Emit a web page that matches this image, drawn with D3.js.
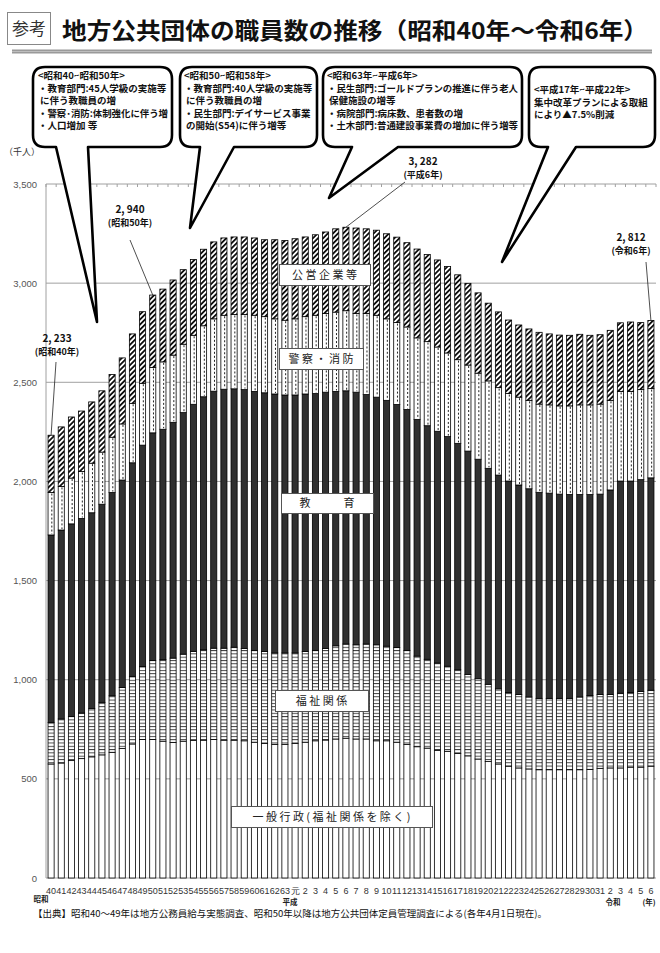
<!DOCTYPE html>
<html><head><meta charset="utf-8">
<script src="https://cdn.jsdelivr.net/npm/d3@7"></script>
<style>
html,body{margin:0;padding:0;background:#fff;}
svg{display:block;font-family:"Noto Sans CJK JP","Noto Sans",sans-serif;}
</style></head>
<body>
<svg id="c" width="660" height="953"></svg>
<script>
// ---------- data (千人) ----------
const categories = ["40","41","42","43","44","45","46","47","48","49","50","51","52","53","54","55","56","57","58","59","60","61","62","63",
  "元","2","3","4","5","6","7","8","9","10","11","12","13","14","15","16","17","18","19","20","21","22","23","24","25","26","27","28","29","30","31",
  "2","3","4","5","6"];
const general = [575,580,592,602,611,621,634,653,676,698,698,690,684,690,693,695,698,695,695,692,685,678,674,674,
  678,685,692,696,701,705,701,701,692,692,685,674,662,655,644,639,628,616,600,587,575,564,555,550,546,546,546,546,546,548,553,
  555,555,559,559,564];
const welfare = [210,222,223,230,243,265,285,308,341,369,399,411,425,439,450,456,461,464,469,466,463,464,461,461,
  457,457,456,462,470,475,475,479,484,477,477,474,457,448,440,429,422,411,405,390,379,372,370,363,360,360,360,360,367,372,372,
  370,377,377,382,383];
const education = [945,953,971,981,988,999,1025,1046,1077,1116,1148,1162,1189,1218,1246,1276,1296,1306,1303,1305,1306,1305,1306,1301,
  1301,1299,1295,1292,1283,1277,1274,1258,1249,1240,1226,1215,1194,1178,1169,1158,1142,1126,1107,1089,1078,1066,1057,1050,1039,1035,1030,1028,1021,1014,1011,
  1032,1070,1066,1068,1071];
const policeFire = [214,220,231,237,250,263,279,283,300,312,330,340,339,345,348,358,365,373,375,379,384,384,379,377,
  384,390,395,397,400,404,397,409,413,411,413,416,411,424,425,422,422,434,434,441,441,441,443,446,445,445,445,447,452,452,454,
  452,452,452,454,450];
const enterprise = [289,300,308,305,309,309,316,333,350,361,365,367,379,376,382,386,388,390,391,391,390,388,399,402,
  404,402,406,411,420,421,431,427,429,429,431,425,448,439,439,436,428,412,405,392,382,371,364,360,362,358,357,356,356,351,350,
  353,346,350,338,344];
const yTicks = [0,500,1000,1500,2000,2500,3000,3500];
const seriesKeys = ["general","welfare","education","policeFire","enterprise"];
const seriesLabels = ["一 般 行 政 ( 福 祉 関 係 を 除 く )","福 祉 関 係","教　　　育","警 察 ・ 消 防","公 営 企 業 等"];
const eraLabels = ["昭和","平成","令和","(年)"];
const highlights = [
  {idx:0, value:"2, 233", era:"(昭和40年)"},
  {idx:10, value:"2, 940", era:"(昭和50年)"},
  {idx:29, value:"3, 282", era:"(平成6年)"},
  {idx:59, value:"2, 812", era:"(令和6年)"}
];
const callouts = [
  ["<昭和40~昭和50年>","・教育部門:45人学級の実施等","に伴う教職員の増","・警察･消防:体制強化に伴う増","・人口増加 等"],
  ["<昭和50~昭和58年>","・教育部門:40人学級の実施等","に伴う教職員の増","・民生部門:デイサービス事業","の開始(S54)に伴う増等"],
  ["<昭和63年~平成6年>","・民生部門:ゴールドプランの推進に伴う老人","保健施設の増等","・病院部門:病床数、患者数の増","・土木部門:普通建設事業費の増加に伴う増等"],
  ["<平成17年~平成22年>","集中改革プランによる取組","により▲7.5%削減"]
];
const title = "地方公共団体の職員数の推移（昭和40年～令和6年）";
const source = "【出典】昭和40～49年は地方公務員給与実態調査、昭和50年以降は地方公共団体定員管理調査による(各年4月1日現在)。";

// ---------- chart ----------
const svg = d3.select("#c");
const defs = svg.append("defs");
const wp = defs.append("pattern").attr("id","pWel").attr("patternUnits","userSpaceOnUse").attr("width",10).attr("height",3.3);
wp.append("rect").attr("width",10).attr("height",3.3).attr("fill","#fff");
wp.append("line").attr("x1",0).attr("x2",10).attr("y1",0.5).attr("y2",0.5).attr("stroke","#333").attr("stroke-width",0.9);
const hp = defs.append("pattern").attr("id","pHatch").attr("patternUnits","userSpaceOnUse").attr("width",3.6).attr("height",3.6).attr("patternTransform","rotate(45)");
hp.append("rect").attr("width",3.6).attr("height",3.6).attr("fill","#fff");
hp.append("line").attr("x1",0.9).attr("x2",0.9).attr("y1",0).attr("y2",3.6).attr("stroke","#000").attr("stroke-width",1.7);

const fills = {general:"#fff", welfare:"url(#pWel)", education:"#303030", policeFire:"#fff", enterprise:"url(#pHatch)"};

const rows = categories.map((c,i)=>({i, cat:c, general:general[i], welfare:welfare[i], education:education[i], policeFire:policeFire[i], enterprise:enterprise[i]}));
const x = d3.scaleBand().domain(d3.range(categories.length)).range([46,656]).paddingInner(0.4).paddingOuter(0.2);
const y = d3.scaleLinear().domain([0,3500]).range([878,184]);

// header
svg.append("rect").attr("x",7.5).attr("y",12.5).attr("width",43).attr("height",32).attr("fill","#fff").attr("stroke","#888").attr("stroke-width",1);
svg.append("text").attr("x",29).attr("y",35).attr("text-anchor","middle").attr("font-size",17).attr("fill","#333").text("参考");
svg.append("text").attr("x",62).attr("y",39).attr("font-size",23).attr("font-weight","bold").attr("fill","#111")
  .attr("textLength",586).attr("lengthAdjust","spacingAndGlyphs").text(title);
svg.append("rect").attr("x",12).attr("y",49.5).attr("width",640).attr("height",4).attr("fill","#9a9a9a");
svg.append("line").attr("x1",12).attr("x2",652).attr("y1",51.5).attr("y2",51.5).attr("stroke","#c8c8c8").attr("stroke-width",0.8);

// grid
const g = svg.append("g");
g.selectAll("line.grid").data(yTicks).join("line").attr("class","grid")
  .attr("x1",46).attr("x2",656).attr("y1",d=>y(d)).attr("y2",d=>y(d)).attr("stroke","#a0a0a0").attr("stroke-width",1);
g.append("line").attr("x1",46).attr("x2",46).attr("y1",y(3500)).attr("y2",y(0)).attr("stroke","#a0a0a0");
g.selectAll("line.tt").data(d3.range(categories.length+1)).join("line").attr("class","tt")
  .attr("x1",d=>46+d*x.step()).attr("x2",d=>46+d*x.step()).attr("y1",y(3500)).attr("y2",y(3500)+3).attr("stroke","#a0a0a0");
g.selectAll("text.yt").data(yTicks).join("text").attr("class","yt")
  .attr("x",37).attr("y",d=>y(d)+3.5).attr("text-anchor","end").attr("font-size",9.5).attr("fill","#555")
  .attr("font-family","Liberation Sans, sans-serif").text(d=>d3.format(",")(d));
svg.append("text").attr("x",4).attr("y",155).attr("font-size",9).attr("fill","#333").text("（千人）");

// bars
const stack = d3.stack().keys(seriesKeys)(rows);
const bars = svg.append("g");
stack.forEach(s=>{
  bars.append("g").selectAll("rect").data(s).join("rect")
    .attr("x",d=>x(d.data.i)).attr("width",x.bandwidth())
    .attr("y",d=>y(d[1])).attr("height",d=>y(d[0])-y(d[1]))
    .attr("fill",fills[s.key]).attr("stroke","#000").attr("stroke-width",0.8);
  if(s.key==="policeFire"){
    bars.append("g").selectAll("line").data(s).join("line")
      .attr("x1",d=>x(d.data.i)+x.bandwidth()*0.62).attr("x2",d=>x(d.data.i)+x.bandwidth()*0.62)
      .attr("y1",d=>y(d[1])+1).attr("y2",d=>y(d[0])-1)
      .attr("stroke","#222").attr("stroke-width",1).attr("stroke-dasharray","2,2");
  }
});

// x labels
svg.append("g").selectAll("text").data(categories).join("text")
  .attr("x",(d,i)=>x(i)+x.bandwidth()/2).attr("y",894).attr("text-anchor","middle")
  .attr("font-size",9).attr("fill","#333").attr("font-family","Liberation Sans, sans-serif").text(d=>d);
const eraPos = [[41,902],[290,905],[613,905],[649,905]];
eraLabels.forEach((t,k)=>svg.append("text").attr("x",eraPos[k][0]).attr("y",eraPos[k][1]).attr("text-anchor","middle")
  .attr("font-size",7.5).attr("font-weight","bold").attr("fill","#222").text(t));
svg.append("text").attr("x",33).attr("y",917).attr("font-size",9.5).attr("fill","#111")
  .attr("textLength",514).attr("lengthAdjust","spacingAndGlyphs").text(source);

// series label boxes
const labelBoxes = [[231,806,201,21],[275,690,93,21],[281,493,92,20],[279,348,84,21],[279,264,91,21]];
seriesLabels.forEach((t,k)=>{
  const b = labelBoxes[k];
  svg.append("rect").attr("x",b[0]+0.5).attr("y",b[1]+0.5).attr("width",b[2]).attr("height",b[3]).attr("fill","#fff").attr("stroke","#555").attr("stroke-width",1);
  svg.append("text").attr("x",b[0]+b[2]/2).attr("y",b[1]+b[3]/2+4).attr("text-anchor","middle").attr("font-size",11).attr("fill","#222").text(t);
});

// highlight annotations
const hlPos = [[57,342],[130,213],[423,165],[631,241]];
highlights.forEach((h,k)=>{
  const p = hlPos[k];
  svg.append("text").attr("x",p[0]).attr("y",p[1]).attr("text-anchor","middle").attr("font-size",10).attr("font-weight","bold").attr("fill","#111").text(h.value);
  svg.append("text").attr("x",p[0]).attr("y",p[1]+13).attr("text-anchor","middle").attr("font-size",9).attr("font-weight","bold").attr("fill","#111").text(h.era);
  const bx = x(h.idx)+x.bandwidth()/2;
  const total = general[h.idx]+welfare[h.idx]+education[h.idx]+policeFire[h.idx]+enterprise[h.idx];
  const sx = [56,130,405,646][k], sy = [362,240,182,262][k];
  svg.append("line").attr("x1",sx).attr("y1",sy).attr("x2",bx).attr("y2",y(total)).attr("stroke","#222").attr("stroke-width",0.8);
});

// callouts
const cBoxes = [
  {x0:33,x1:172,y0:67,y1:147,bL:56,bR:88,tx:97,ty:322,textX:38,lineY:[79,91.5,104,116.5,129],fs:9.5},
  {x0:180,x1:317,y0:67,y1:147,bL:200,bR:234,tx:190,ty:228,textX:184,lineY:[79,91.5,104,116.5,129],fs:9.5},
  {x0:323,x1:522,y0:67,y1:147,bL:352,bR:398,tx:329,ty:198,textX:327,lineY:[79,91.5,104,116.5,129],fs:9.5},
  {x0:529,x1:655,y0:67,y1:147,bL:548,bR:576,tx:502,ty:262,textX:534,lineY:[93,105.5,118],fs:9.5}
];
cBoxes.forEach((b,k)=>{
  const r=12;
  const p = `M${b.x0+r},${b.y0} H${b.x1-r} Q${b.x1},${b.y0} ${b.x1},${b.y0+r} V${b.y1-r} Q${b.x1},${b.y1} ${b.x1-r},${b.y1} H${b.bR} L${b.tx},${b.ty} L${b.bL},${b.y1} H${b.x0+r} Q${b.x0},${b.y1} ${b.x0},${b.y1-r} V${b.y0+r} Q${b.x0},${b.y0} ${b.x0+r},${b.y0} Z`;
  svg.append("path").attr("d",p).attr("fill","#fff").attr("stroke","#000").attr("stroke-width",2.6).attr("stroke-linejoin","round");
  callouts[k].forEach((t,j)=>{
    const maxW = b.x1-b.textX-4;
    const tt = svg.append("text").attr("x",b.textX + ((k<3 && j>0 && !t.startsWith("・"))?2:0)).attr("y",b.lineY[j]).attr("font-size",b.fs).attr("font-weight","bold").attr("fill","#111").text(t);
    const w = tt.node().getComputedTextLength();
    if(w>maxW) tt.attr("textLength",maxW).attr("lengthAdjust","spacingAndGlyphs");
  });
});
</script>
</body></html>
